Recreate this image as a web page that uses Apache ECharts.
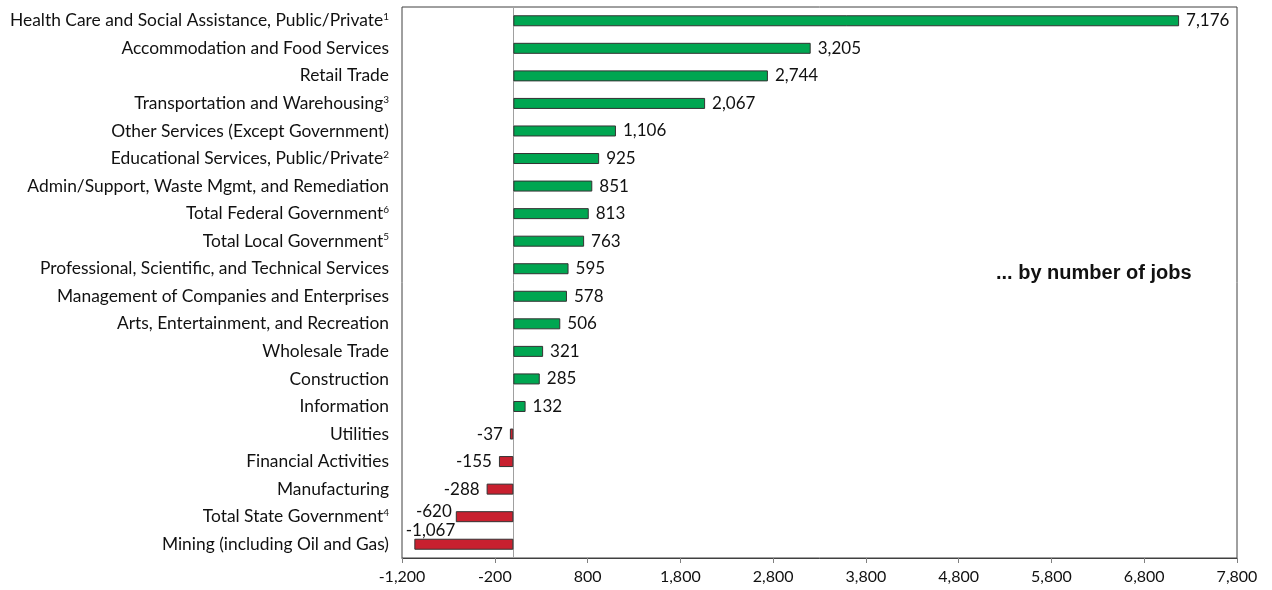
<!DOCTYPE html>
<html>
<head>
<meta charset="utf-8">
<script src="https://cdn.jsdelivr.net/npm/echarts@6/dist/echarts.min.js"></script>
<style>
  html, body { margin: 0; padding: 0; background: #fff; }
  #chart { width: 1272px; height: 590px; }
</style>
</head>
<body>
<div id="chart"></div>
<script>
const categories = [
  'Health Care and Social Assistance, Public/Private{sup|1}',
  'Accommodation and Food Services',
  'Retail Trade',
  'Transportation and Warehousing{sup|3}',
  'Other Services (Except Government)',
  'Educational Services, Public/Private{sup|2}',
  'Admin/Support, Waste Mgmt, and Remediation',
  'Total Federal Government{sup|6}',
  'Total Local Government{sup|5}',
  'Professional, Scientific, and Technical Services',
  'Management of Companies and Enterprises',
  'Arts, Entertainment, and Recreation',
  'Wholesale Trade',
  'Construction',
  'Information',
  'Utilities',
  'Financial Activities',
  'Manufacturing',
  'Total State Government{sup|4}',
  'Mining (including Oil and Gas)'
];
const jobs = [7176, 3205, 2744, 2067, 1106, 925, 851, 813, 763, 595, 578, 506, 321, 285, 132, -37, -155, -288, -620, -1067];
const xTicks = [-1200, -200, 800, 1800, 2800, 3800, 4800, 5800, 6800, 7800];

const myChart = echarts.init(document.getElementById('chart'));
const fmt = v => v.toLocaleString('en-US');

const data = jobs.map((v, i) => {
  const item = {
    value: v,
    itemStyle: { color: v >= 0 ? '#00a651' : '#c8202f' },
    label: { position: v >= 0 ? 'right' : 'left', distance: 7 }
  };
  // excel pushed these two labels up where they overlap
  if (v === -620) item.label = { position: 'left', distance: 4, offset: [0, -5] };
  if (v === -1067) item.label = { position: 'left', distance: 0, offset: [41, -14] };
  return item;
});

const option = {
  animation: false,
  grid: {
    left: 402, right: 35, top: 7, bottom: 32,
    show: true, borderColor: '#404040', borderWidth: 1
  },
  title: {
    text: '... by number of jobs',
    left: 991, top: 258,
    textStyle: { fontFamily: 'Liberation Sans', fontWeight: 'bold', fontSize: 20, color: '#111' }
  },
  xAxis: {
    type: 'value',
    min: xTicks[0], max: xTicks[xTicks.length - 1], interval: 1000,
    splitLine: { show: false },
    axisLine: { show: true, lineStyle: { color: '#404040' } },
    axisTick: { show: true, length: 5, lineStyle: { color: '#808080' } },
    axisLabel: {
      margin: 11,
      fontFamily: 'Lato', fontSize: 16, color: '#111',
      formatter: v => fmt(v)
    }
  },
  yAxis: {
    type: 'category',
    inverse: true,
    data: categories,
    axisLine: { show: true, onZero: true, lineStyle: { color: '#a0a0a0' } },
    axisTick: { show: false },
    axisLabel: {
      margin: 13,
      fontFamily: 'Lato', fontSize: 17.4, color: '#111',
      formatter: v => v,
      rich: {
        sup: { fontFamily: 'Lato', fontSize: 10, color: '#111', verticalAlign: 'top', padding: [0, 0, 8, 0] }
      }
    }
  },
  series: [{
    type: 'bar',
    data: data,
    barWidth: 11,
    itemStyle: { borderColor: '#333', borderWidth: 1 },
    label: {
      show: true,
      fontFamily: 'Lato', fontSize: 17, color: '#111',
      formatter: p => fmt(p.value)
    }
  }]
};
myChart.setOption(option);
</script>
</body>
</html>
